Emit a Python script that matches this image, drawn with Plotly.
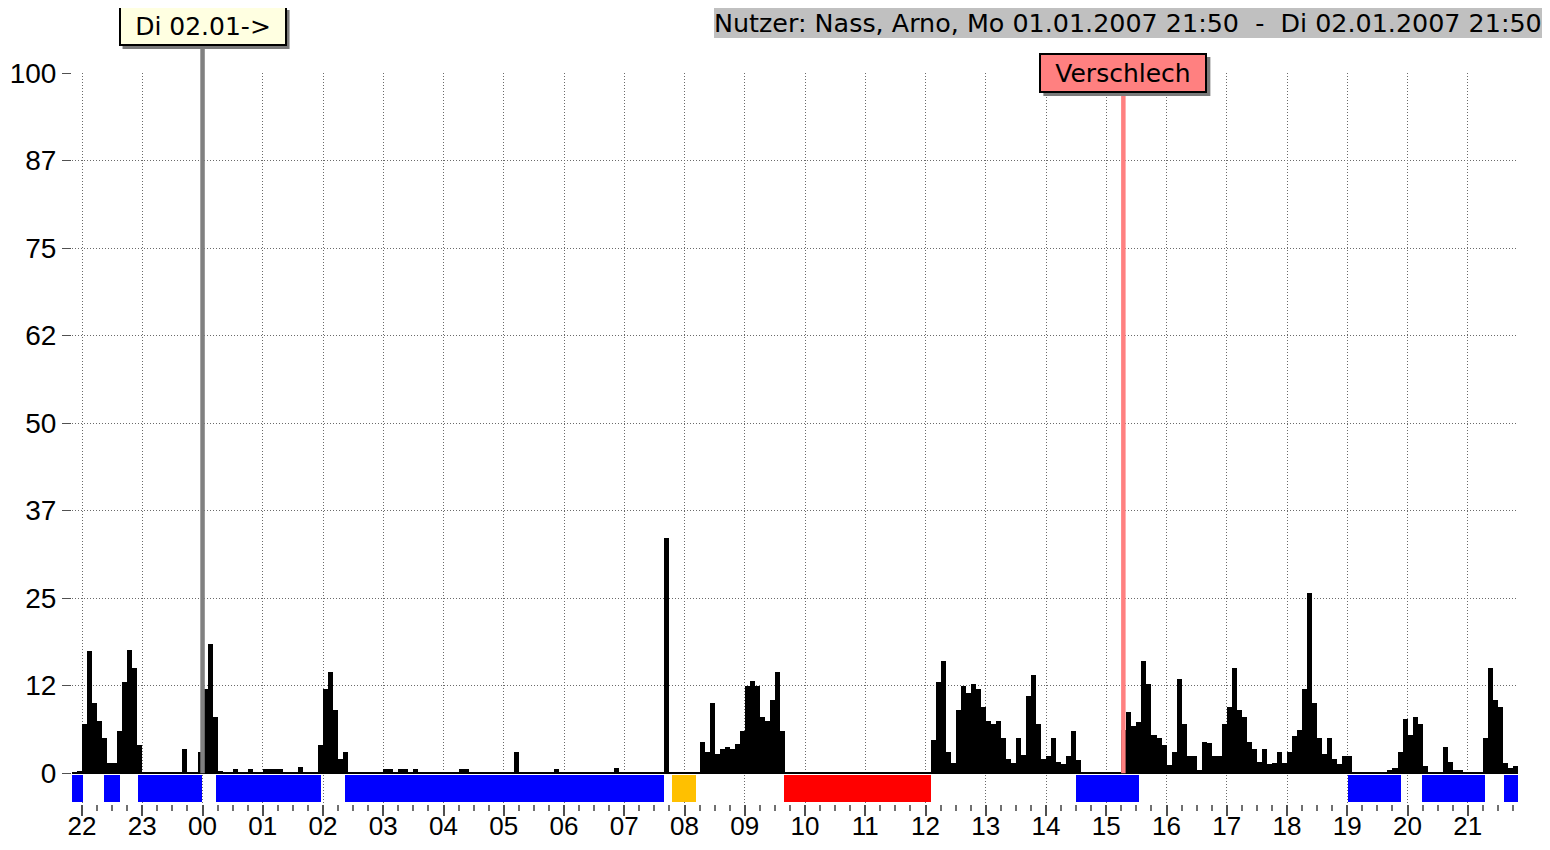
import datetime as dt
import plotly.graph_objects as go

# ---------------- data ----------------
START = dt.datetime(2007, 1, 1, 21, 50)
END = dt.datetime(2007, 1, 2, 21, 50)
BIN_MIN = 5

# activity (5-minute bins), one row per hour, each row starting at hh:50
r2150 = [0, 0.3, 7, 17.5, 10, 7.5, 5, 1.4, 1.4, 6, 13, 17.6]
r2250 = [15, 4, 0, 0, 0, 0, 0, 0, 0, 0, 3.5, 0]
r2350 = [0, 3, 12, 18.5, 8, 0.3, 0, 0, 0.6, 0, 0, 0.6]
r0050 = [0, 0, 0.6, 0.6, 0.6, 0.6, 0, 0, 0, 0.9, 0, 0]
r0150 = [0, 4, 12, 14.5, 9, 2, 3, 0, 0, 0, 0, 0]
r0250 = [0, 0, 0.6, 0.6, 0, 0.6, 0.6, 0, 0.6, 0, 0, 0]
r0350 = [0, 0, 0, 0, 0, 0.6, 0.6, 0, 0, 0, 0, 0]
r0450 = [0, 0, 0, 0, 3.0, 0, 0, 0, 0, 0, 0, 0]
r0550 = [0.6, 0, 0, 0, 0, 0, 0, 0, 0, 0, 0, 0]
r0650 = [0.7, 0, 0, 0, 0, 0, 0, 0, 0, 0, 33.6, 0]
r0750 = [0, 0, 0, 0, 0, 4.5, 3, 10, 2.8, 3.5, 3.8, 3.5]
r0850 = [4.2, 6, 12.5, 13.2, 12.5, 8, 7.5, 10.5, 14.5, 6, 0, 0]
r0950 = [0, 0, 0, 0, 0, 0, 0, 0, 0, 0, 0, 0]
r1050 = [0, 0, 0, 0, 0, 0, 0, 0, 0, 0, 0, 0]
r1150 = [0, 0, 0, 4.7, 13, 16, 3, 1.5, 9, 12.4, 11.5, 12.8]
r1250 = [12, 9.4, 7.5, 7, 7.4, 5, 2, 1.5, 5, 2.6, 11, 14]
r1350 = [7, 2, 2.5, 5, 1.6, 1.3, 2.4, 6, 1.9, 0, 0, 0]
r1450 = [0, 0, 0, 0, 0, 6.1, 8.8, 6.8, 7.3, 16, 12.7, 5.5]
r1550 = [5, 4, 1.2, 3, 13.5, 7, 2.5, 2.5, 0.4, 4.4, 4.3, 2.5]
r1650 = [2.5, 7, 9.5, 15, 9, 8, 4.5, 3.5, 1.6, 3.5, 1.3, 1.5]
r1750 = [3, 1.5, 3, 5.3, 6.1, 12, 25.7, 10, 5, 2.8, 5, 2]
r1850 = [1.3, 2.5, 2.5, 0, 0, 0, 0, 0, 0, 0, 0.5, 0.8]
r1950 = [3, 7.8, 5.5, 8, 7, 1, 0, 0, 0, 3.8, 1.6, 0.5]
r2050 = [0.4, 0, 0, 0, 0, 5, 15, 10.5, 9.5, 1.5, 0.8, 1.0]

activity = (r2150 + r2250 + r2350 + r0050 + r0150 + r0250 + r0350 + r0450 +
            r0550 + r0650 + r0750 + r0850 + r0950 + r1050 + r1150 + r1250 +
            r1350 + r1450 + r1550 + r1650 + r1750 + r1850 + r1950 + r2050)

# status band segments
status_start = ["2007-01-01 21:50", "2007-01-01 22:22", "2007-01-01 22:56",
                "2007-01-02 00:13", "2007-01-02 02:22", "2007-01-02 07:48",
                "2007-01-02 09:39", "2007-01-02 14:30", "2007-01-02 19:01",
                "2007-01-02 20:14", "2007-01-02 21:36"]
status_end = ["2007-01-01 22:01", "2007-01-01 22:38", "2007-01-01 23:59",
              "2007-01-02 01:58", "2007-01-02 07:40", "2007-01-02 08:11",
              "2007-01-02 12:05", "2007-01-02 15:33", "2007-01-02 19:53",
              "2007-01-02 21:17", "2007-01-02 21:50"]
status_kind = ["blue", "blue", "blue", "blue", "blue", "orange",
               "red", "blue", "blue", "blue", "blue"]

# event markers
marker_time = ["2007-01-02 00:00", "2007-01-02 15:17"]
marker_text = ["Di 02.01->", "Verschlech"]

y_tickvals = [0, 12.5, 25, 37.5, 50, 62.5, 75, 87.5, 100]
y_ticktext = ["0", "12", "25", "37", "50", "62", "75", "87", "100"]

title_text = "Nutzer: Nass, Arno, Mo 01.01.2007 21:50  -  Di 02.01.2007 21:50"

# ---------------- styling ----------------
KIND_COLOR = {"blue": "#0000ff", "orange": "#ffc000", "red": "#ff0000"}
BAND_TOP, BAND_BOTTOM = -0.3, -4.1
Y_MIN, Y_MAX = -4.4, 100
FMT = "%Y-%m-%d %H:%M"
GRID = "#6a6a6a"

x_act = [START + dt.timedelta(minutes=BIN_MIN * i + BIN_MIN / 2) for i in range(len(activity))]

fig = go.Figure()
fig.add_trace(go.Bar(
    x=x_act, y=activity, width=BIN_MIN * 60 * 1000,
    marker=dict(color="black", line=dict(width=0)), hoverinfo="skip"))

s_t = [dt.datetime.strptime(s, FMT) for s in status_start]
e_t = [dt.datetime.strptime(s, FMT) for s in status_end]
fig.add_trace(go.Bar(
    x=[a + (b - a) / 2 for a, b in zip(s_t, e_t)],
    y=[BAND_TOP - BAND_BOTTOM] * len(s_t),
    base=BAND_BOTTOM,
    width=[(b - a).total_seconds() * 1000 for a, b in zip(s_t, e_t)],
    marker=dict(color=[KIND_COLOR[k] for k in status_kind], line=dict(width=0)),
    hoverinfo="skip"))

zero_pos = (0 - Y_MIN) / (Y_MAX - Y_MIN)
line_cols = ["#808080", "#ff8080"]
box_cols = ["#ffffe1", "#ff8080"]
line_tops = [1.04, 1.0]
box_yshift = [27, -20]   # pixel offset of box bottom relative to plot top
shapes = []
annotations = []
for t, txt, lc, bc, lt, ys in zip(marker_time, marker_text, line_cols, box_cols, line_tops, box_yshift):
    shapes.append(dict(type="line", xref="x", yref="paper", x0=t, x1=t,
                       y0=zero_pos, y1=lt, line=dict(color=lc, width=4.5), layer="above"))
    shapes.append(dict(type="rect", xref="x", xsizemode="pixel", xanchor=t,
                       x0=-80, x1=87, yref="paper", ysizemode="pixel", yanchor=1,
                       y0=ys - 3, y1=ys + 36, fillcolor="#7a7a7a",
                       line=dict(width=0), layer="above"))
    annotations.append(dict(x=t, xref="x", y=1, yref="paper", xanchor="center",
                            yanchor="bottom", yshift=ys, text=txt, showarrow=False,
                            font=dict(family="DejaVu Sans", size=25, color="black"),
                            bgcolor=bc, bordercolor="black", borderwidth=2,
                            borderpad=1, width=162, height=34))

annotations.append(dict(x=1, xref="paper", xanchor="right", xshift=24,
                        y=1, yref="paper", yanchor="bottom", yshift=35,
                        text=title_text, showarrow=False,
                        font=dict(family="DejaVu Sans", size=25.4, color="black"),
                        bgcolor="#c0c0c0", borderpad=0, borderwidth=0))

# the page adds an 8px body margin on every side; size the figure so the page
# does not overflow the 1550x850 window
fig.update_layout(
    width=1534, height=834,
    margin=dict(l=64, r=24, t=65, b=38, autoexpand=False),
    paper_bgcolor="white", plot_bgcolor="white",
    showlegend=False, barmode="overlay", bargap=0,
    shapes=shapes, annotations=annotations,
    font=dict(family="Liberation Sans", size=28, color="black"),
)
fig.update_xaxes(
    type="date", range=[START, END],
    tick0="2007-01-01 22:00", dtick=3600000, tickformat="%H",
    ticks="outside", ticklen=11, tickcolor="#505050", tickwidth=2,
    ticklabelstandoff=-12,
    showgrid=True, gridcolor=GRID, griddash="1px,2px", gridwidth=1,
    showline=False, zeroline=False, automargin=False,
    tickfont=dict(family="Liberation Sans", size=26, color="black"),
    minor=dict(dtick=900000, ticks="outside", ticklen=6, tickcolor="#707070",
               tickwidth=2, showgrid=False),
)
fig.update_yaxes(
    range=[Y_MIN, Y_MAX], tickmode="array", tickvals=y_tickvals, ticktext=y_ticktext,
    ticks="outside", ticklen=9, tickcolor="#505050", tickwidth=1,
    showgrid=False, showline=False, automargin=False,
    zeroline=True, zerolinecolor="black", zerolinewidth=2,
    tickfont=dict(family="Liberation Sans", size=28, color="black"),
    minor=dict(tickvals=y_tickvals[1:-1], showgrid=True, gridcolor=GRID,
               griddash="1px,2px", gridwidth=1, ticks=""),
)

fig.write_html("out.html")
